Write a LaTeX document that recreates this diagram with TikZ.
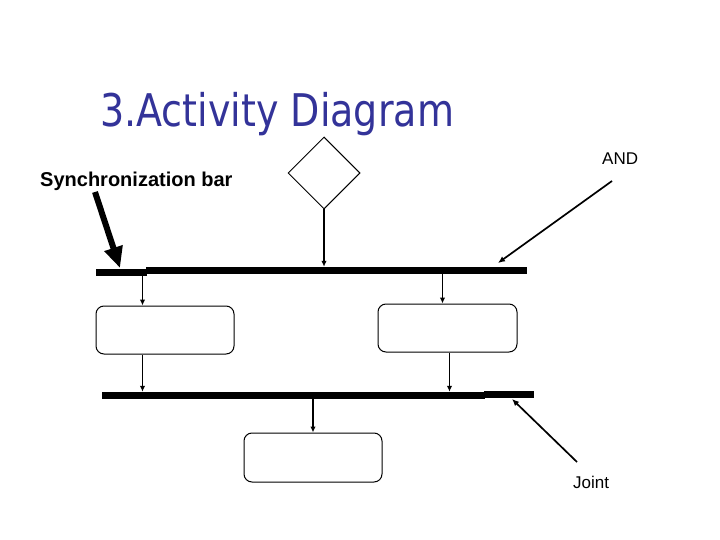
\documentclass[tikz,border=0pt]{standalone}
\usepackage{fontspec}
\setmainfont{Liberation Sans}
\newfontfamily\titlefont{DejaVu Sans}
\usetikzlibrary{shapes.geometric,arrows.meta}
\definecolor{titleblue}{RGB}{51,51,153}
\begin{document}
\begin{tikzpicture}[x=1pt,y=-1pt,
  txt/.style={inner sep=0pt,anchor=base west},
  barnode/.style={fill=black,inner sep=0pt,minimum height=7pt},
  actbox/.style={draw=black,line width=1pt,rounded corners=8pt,inner sep=0pt,minimum width=138pt,minimum height=48pt},
  arr/.style={line width=1.8pt,-{Latex[length=6pt,width=5.5pt]}},
  pointer/.style={line width=1.7pt,-{Latex[length=7pt,width=6pt]}},
  bigpointer/.style={line width=6pt,-{Triangle[length=21pt,width=18pt]}}]
\useasboundingbox (0,0) rectangle (720,540);
\fill[white] (0,0) rectangle (720,540);
% title
\node[txt,text=titleblue] (title) at (100,126.5) {\scalebox{0.845}[1]{\titlefont\fontsize{45}{50}\selectfont 3.Activity Diagram}};
% labels
\node[txt] (synclabel) at (40,187) {\bfseries\fontsize{20}{24}\selectfont Synchronization bar};
\node[txt] (andlabel) at (602,165) {\fontsize{17}{20}\selectfont AND};
\node[txt] (jointlabel) at (573,488) {\fontsize{17}{20}\selectfont Joint};
% decision
\node[diamond,draw=black,line width=1pt,minimum width=72pt,minimum height=72pt,inner sep=0pt] (dia) at (324,173) {};
% bars
\node[barnode,minimum width=381pt] (bar1) at (336.5,270.5) {};
\fill[black] (96,269) rectangle (147,275.5);
\node[barnode,minimum width=383pt] (bar2) at (293.5,395.5) {};
\fill[black] (484,391) rectangle (534,397.5);
% activity boxes
\node[actbox] (box1) at (165,330) {};
\node[actbox,minimum width=139pt] (box2) at (447.5,328) {};
\node[actbox,minimum height=49pt] (box3) at (313,457.5) {};
% flows
\draw[arr] (dia.south) -- (dia.south |- bar1.north);
\draw[arr] ([xshift=47pt]box1.north west |- bar1.south) -- ([xshift=47pt]box1.north west);
\draw[arr] ([xshift=65pt]box2.north west |- bar1.south) -- ([xshift=65pt]box2.north west);
\draw[arr] ([xshift=47pt]box1.south west) -- ([xshift=47pt]box1.south west |- bar2.north);
\draw[arr] ([xshift=72pt]box2.south west) -- ([xshift=72pt]box2.south west |- bar2.north);
\draw[arr] (box3.north |- bar2.south) -- (box3.north);
% annotation pointers
\coordinate (synctail) at (95,192);
\coordinate (synctip) at (120,268);
\draw[bigpointer] (synctail) -- (synctip);
\coordinate (andtail) at (612,181);
\coordinate (andtip) at (498,263);
\draw[pointer] (andtail) -- (andtip);
\coordinate (jointtail) at (577,462);
\coordinate (jointtip) at (512,399);
\draw[pointer] (jointtail) -- (jointtip);
\end{tikzpicture}
\end{document}
